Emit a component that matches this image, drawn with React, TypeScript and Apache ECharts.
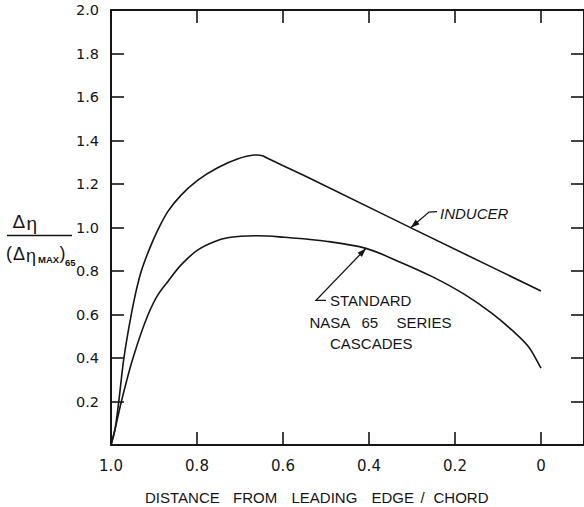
import React, { useEffect, useRef } from "react";
import * as echarts from "echarts";

// x: distance from leading edge / chord, y: Δη / (Δη_max)_65
const inducerData: [number, number][] = [
  [1.0, 0], [0.991, 0.069], [0.982, 0.199], [0.97, 0.399], [0.953, 0.598], [0.941, 0.713],
  [0.93, 0.797], [0.91, 0.904], [0.891, 0.989], [0.868, 1.073], [0.837, 1.149],
  [0.798, 1.218], [0.752, 1.275], [0.706, 1.315], [0.667, 1.333], [0.648, 1.33],
  [0.636, 1.318], [0.539, 1.228], [0.3, 0.996], [0, 0.708],
];
const standardData: [number, number][] = [
  [1.0, 0], [0.991, 0.069], [0.976, 0.199], [0.949, 0.399], [0.914, 0.598], [0.891, 0.69],
  [0.868, 0.751], [0.837, 0.828], [0.798, 0.897], [0.76, 0.935], [0.729, 0.953],
  [0.683, 0.961], [0.636, 0.961], [0.597, 0.955], [0.5, 0.937], [0.407, 0.904],
  [0.33, 0.843], [0.253, 0.774], [0.176, 0.69], [0.114, 0.605], [0.068, 0.529],
  [0.029, 0.452], [0, 0.353],
];
const xTicks = [1.0, 0.8, 0.6, 0.4, 0.2, 0];
const xTickLabels = ["1.0", "0.8", "0.6", "0.4", "0.2", "0"];
const yTicks = [0.2, 0.4, 0.6, 0.8, 1.0, 1.2, 1.4, 1.6, 1.8, 2.0];
const yTickLabels = ["0.2", "0.4", "0.6", "0.8", "1.0", "1.2", "1.4", "1.6", "1.8", "2.0"];
const inducerArrowAt: [number, number] = [0.303, 0.999];
const standardArrowAt: [number, number] = [0.407, 0.904];

const FONT = "'Liberation Sans', Arial, sans-serif";
const TICKFONT = "'DejaVu Sans', sans-serif";
const INK = "#151515";

// centripetal Catmull-Rom through pixel points -> SVG path data
function splinePath(p: number[][]): string {
  const n = p.length;
  const pt = (i: number) => {
    if (i < 0) return [2 * p[0][0] - p[1][0], 2 * p[0][1] - p[1][1]];
    if (i >= n) return [2 * p[n - 1][0] - p[n - 2][0], 2 * p[n - 1][1] - p[n - 2][1]];
    return p[i];
  };
  const a = 0.5;
  let d = `M${p[0][0]},${p[0][1]}`;
  for (let i = 0; i < n - 1; i++) {
    const P0 = pt(i - 1), P1 = pt(i), P2 = pt(i + 1), P3 = pt(i + 2);
    const d1 = Math.max(Math.hypot(P1[0] - P0[0], P1[1] - P0[1]), 1e-6);
    const d2 = Math.max(Math.hypot(P2[0] - P1[0], P2[1] - P1[1]), 1e-6);
    const d3 = Math.max(Math.hypot(P3[0] - P2[0], P3[1] - P2[1]), 1e-6);
    const d1a = Math.pow(d1, a), d2a = Math.pow(d2, a), d3a = Math.pow(d3, a);
    const d1a2 = d1a * d1a, d2a2 = d2a * d2a, d3a2 = d3a * d3a;
    const b1 = [0, 1].map((k) =>
      (d1a2 * P2[k] - d2a2 * P0[k] + (2 * d1a2 + 3 * d1a * d2a + d2a2) * P1[k]) / (3 * d1a * (d1a + d2a)));
    const b2 = [0, 1].map((k) =>
      (d3a2 * P1[k] - d2a2 * P3[k] + (2 * d3a2 + 3 * d3a * d2a + d2a2) * P2[k]) / (3 * d3a * (d3a + d2a)));
    d += ` C${b1[0]},${b1[1]} ${b2[0]},${b2[1]} ${P2[0]},${P2[1]}`;
  }
  return d;
}

const curveSeries = (name: string, data: [number, number][]) => ({
  name, type: "custom", data, encode: { x: 0, y: 1 }, clip: true,
  renderItem: (params: any, api: any) => {
    if (params.dataIndex !== 0) return null;
    const pts = data.map((v) => api.coord(v));
    return {
      type: "path",
      shape: { pathData: splinePath(pts) },
      style: { stroke: INK, lineWidth: 1.6, fill: "none" },
    };
  },
});

export default function App() {
  const ref = useRef<HTMLDivElement>(null);
  useEffect(() => {
    if (!ref.current) return;
    const chart = echarts.init(ref.current, null, { renderer: "svg" });
    const axisLine = { show: true, onZero: false, lineStyle: { color: INK, width: 2 } };
    const tick = (vals: number[]) => ({
      show: true, inside: true, length: 13, customValues: vals,
      lineStyle: { color: INK, width: 1.6 },
    });
    const xLabel = (v: number) => {
      const i = xTicks.findIndex((t) => Math.abs(t - v) < 1e-6);
      return i >= 0 ? xTickLabels[i] : "";
    };
    const yLabel = (v: number) => {
      const i = yTicks.findIndex((t) => Math.abs(t - v) < 1e-6);
      return i >= 0 ? yTickLabels[i] : "";
    };
    chart.setOption({
      animation: false,
      backgroundColor: "#ffffff",
      grid: { left: 111, top: 10, width: 474.6, height: 435 },
      xAxis: [
        {
          type: "value", min: -0.1, max: 1.0, inverse: true, position: "bottom",
          axisLine, axisTick: tick(xTicks), splitLine: { show: false },
          axisLabel: {
            customValues: xTicks, formatter: xLabel, margin: 13, fontSize: 15,
            color: INK, fontFamily: TICKFONT,
          },
        },
        {
          type: "value", min: -0.1, max: 1.0, inverse: true, position: "top",
          axisLine, axisTick: tick(xTicks), splitLine: { show: false },
          axisLabel: { show: false },
        },
      ],
      yAxis: [
        {
          type: "value", min: 0, max: 2.0, interval: 0.2, position: "left",
          axisLine, axisTick: tick(yTicks.slice(0, 9)), splitLine: { show: false },
          axisLabel: {
            customValues: yTicks, formatter: yLabel, margin: 12, fontSize: 14.5,
            color: INK, fontFamily: TICKFONT,
          },
        },
        {
          type: "value", min: 0, max: 2.0, interval: 0.2, position: "right",
          axisLine, axisTick: tick(yTicks.slice(0, 9)), splitLine: { show: false },
          axisLabel: { show: false },
        },
      ],
      series: [
        curveSeries("INDUCER", inducerData),
        curveSeries("STANDARD NASA 65 SERIES CASCADES", standardData),
      ],
    });

    const ti = chart.convertToPixel({ gridIndex: 0 }, inducerArrowAt) as number[];
    const ts = chart.convertToPixel({ gridIndex: 0 }, standardArrowAt) as number[];
    const head = (tip: number[], from: number[]) => {
      const dx = tip[0] - from[0], dy = tip[1] - from[1];
      const L = Math.hypot(dx, dy);
      const ux = dx / L, uy = dy / L, nx = -uy, ny = ux;
      const b = [tip[0] - ux * 9, tip[1] - uy * 9];
      return {
        type: "polygon",
        shape: { points: [tip, [b[0] + nx * 3, b[1] + ny * 3], [b[0] - nx * 3, b[1] - ny * 3]] },
        style: { fill: INK },
      };
    };
    const bi = [ti[0] + 18.3, ti[1] - 15.6];
    const bs = [ts[0] - 50, ts[1] + 52];
    const txt = (text: string, x: number, y: number, size = 15, extra: any = {}) => ({
      type: "text", x, y,
      style: { text, fontSize: size, fontFamily: FONT, fill: INK, verticalAlign: "middle", align: "left", ...extra },
    });
    const titleWords: [string, number][] = [
      ["DISTANCE", 145], ["FROM", 233], ["LEADING", 291.5], ["EDGE", 371.5], ["/", 420.5], ["CHORD", 433.5],
    ];
    chart.setOption({
      graphic: [
        { type: "polyline", shape: { points: [[bi[0] + 8, bi[1] - 0.5], bi, ti] }, style: { stroke: INK, lineWidth: 1.3, fill: null } },
        head(ti, bi),
        { type: "polyline", shape: { points: [[bs[0] + 10, bs[1]], bs, ts] }, style: { stroke: INK, lineWidth: 1.3, fill: null } },
        head(ts, bs),
        txt("INDUCER", 440, 213, 15, { fontStyle: "italic" }),
        txt("STANDARD", 330, 300),
        txt("NASA", 309.5, 322),
        txt("65", 361.5, 322),
        txt("SERIES", 396.5, 322),
        txt("CASCADES", 330, 343.5),
        ...titleWords.map(([w, x]) => txt(w, x, 497)),
        // y-axis label: Δη / (Δη_MAX)_65
        txt("Δ", 12.5, 221.5, 19),
        txt("η", 26.5, 223, 19),
        { type: "line", shape: { x1: 7, y1: 235.5, x2: 72, y2: 235.5 }, style: { stroke: INK, lineWidth: 1.5 } },
        txt("(", 6, 253, 18),
        txt("Δ", 13, 253.5, 18),
        txt("η", 26, 256, 18),
        txt("MAX", 38, 259.5, 9.5, { fontWeight: "bold" }),
        txt(")", 59.5, 253, 18),
        txt("65", 65, 262, 9.5, { fontWeight: "bold" }),
      ],
    });
    return () => chart.dispose();
  }, []);
  return (
    <div
      ref={ref}
      style={{ position: "fixed", left: 0, top: 0, width: 584, height: 507, background: "#fff" }}
    />
  );
}
